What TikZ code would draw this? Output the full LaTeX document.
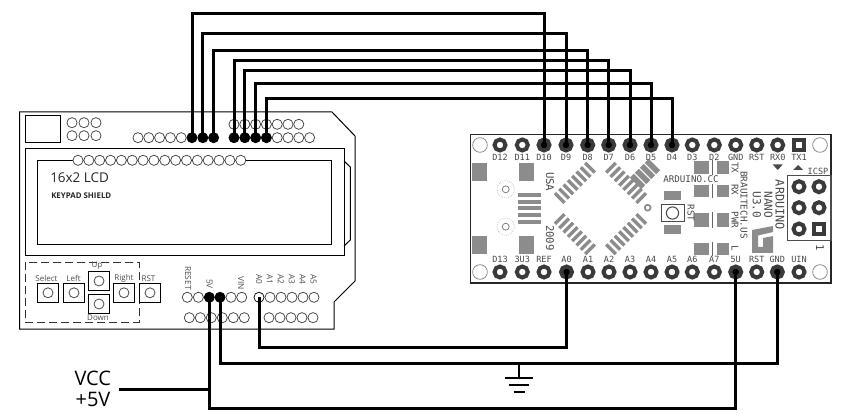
\documentclass[tikz,border=0pt]{standalone}
\usepackage{fontspec}
\setmainfont{Open Sans}
\newfontfamily\boardfont{DejaVu Sans Mono}
\definecolor{padc}{HTML}{3A3A3A}
\definecolor{silk}{HTML}{4A4A4A}
\definecolor{greyc}{HTML}{8C8C8C}
\tikzset{
  outline/.style={draw=black,line width=0.75pt,fill=none},
  hole/.style={circle,draw=black!75,line width=0.55pt,fill=white,minimum size=7.6pt,inner sep=0pt},
  jack/.style={circle,draw=black,line width=0.55pt,fill=black,minimum size=7.6pt,inner sep=0pt},
  wire/.style={draw=black,line width=2.25pt,line join=miter},
  pad/.style={circle,draw=padc,line width=3pt,fill=white,minimum size=8.25pt,inner sep=0pt},
  padjoin/.style={circle,draw=padc,line width=3pt,fill=black,minimum size=8.25pt,inner sep=0pt},
  squarepad/.style={draw=padc,line width=3pt,fill=white,minimum size=7.6pt,inner sep=0pt},
  cornerpad/.style={circle,draw=black!45,line width=0.6pt,fill=white,minimum size=11pt,inner sep=0pt},
  btn/.style={draw=black,line width=0.75pt,fill=white,minimum width=16pt,minimum height=14.5pt,inner sep=0pt},
  btnc/.style={circle,draw=black!70,line width=0.6pt,minimum size=7.5pt,inner sep=0pt},
  shlab/.style={font=\fontsize{6}{6}\selectfont,text=black!70,inner sep=0pt},
  shrot/.style={font=\fontsize{6.2}{6}\selectfont,text=black!70,inner sep=0pt,rotate=-90,anchor=west},
  bdlab/.style={font=\boardfont\fontsize{6.4}{6}\selectfont,text=silk,inner sep=0pt},
  bdrot/.style={font=\boardfont\fontsize{7}{7}\selectfont,text=silk,inner sep=0pt,rotate=-90},
  greyrect/.style={fill=greyc,draw=none},
  power/.style={font=\fontsize{15}{15}\selectfont,text=black,inner sep=0pt},
}
\begin{document}
\begin{tikzpicture}[x=0.75pt,y=-0.75pt]
\useasboundingbox (0,0) rectangle (849,420);
% ---------- shield
\draw[outline] (19.5,112) -- (332,112) -- (355,136) -- (355,281) -- (334,302) -- (334,329) -- (19.5,329) -- cycle;
\draw[outline] (25.5,116) rectangle (60.5,143);
\draw[outline] (25.5,148.3) rectangle (344,256);
\draw[outline] (37.5,160.3) rectangle (331.7,244.3);
\draw[outline] (344,161) -- (350.3,167) -- (350.3,240) -- (344,246);
\foreach \i/\x/\y in {1/72/122.7,2/84/122.7,3/96/122.7,4/72/135.7,5/84/135.7,6/96/135.7}
  \node[hole] (m\i) at (\x,\y) {};
\foreach \i in {0,...,15}
  \node[hole] (l\i) at ({78+\i*10.85},160.3) {};
\foreach \i in {0,...,4}
  \node[hole] (a\i) at ({138+\i*10.8},137.7) {};
\foreach \i in {5,6,7}
  \node[jack] (a\i) at ({138+\i*10.8},137.7) {};
\foreach \i in {0,...,3}
  \node[jack] (b\i) at ({234+\i*10.8},137.7) {};
\foreach \i in {4,...,7}
  \node[hole] (b\i) at ({234+\i*10.8},137.7) {};
\foreach \i in {0,...,6}
  \node[hole] (c\i) at ({234+\i*10.8},124.3) {};
% power header
\foreach \i/\x in {0/187.3,1/198.4,4/231,5/241.7}
  \node[hole] (p\i) at (\x,297.3) {};
\node[jack] (p5v) at (209.3,297.3) {};
\node[jack] (pgnd) at (220,297.3) {};
\node[hole,draw=black] (pa0) at (259,297.3) {};
\foreach \i in {1,...,5}
  \node[hole] (q\i) at ({259+\i*11},297.3) {};
\foreach \i in {0,...,5}
  \node[hole] (r\i) at ({189.3+\i*11},317.7) {};
\foreach \i in {0,...,4}
  \node[hole] (s\i) at ({269+\i*11},317.7) {};
\node[shrot] (tr) at (188,266) {RESET};
\node[shrot] (t5) at (209.5,279) {5V};
\node[shrot] (tv) at (241,276) {VIN};
\foreach \n [count=\i from 0] in {A0,A1,A2,A3,A4,A5}
  \node[shrot] (ta\i) at ({259+\i*10.9},274.5) {\n};
% buttons
\draw[draw=black!80,line width=0.6pt,dash pattern=on 6pt off 3pt] (25.3,262.3) rectangle (139.3,322.3);
\foreach \n/\x/\y in {bs/48/292.8,bl/74/292.8,bu/99/281,bd/99/304,br/124/292.8,bt/150/292.8}{
  \node[btn] (\n) at (\x,\y) {};
  \node[btnc] (\n c) at (\x,\y) {};
}
\node[shlab] (ls) at (46.5,278.5) {Select};
\node[shlab] (ll) at (73.5,278.5) {Left};
\node[shlab] (lu) at (97,265.3) {Up};
\node[shlab] (ld) at (98,317.5) {Down};
\node[shlab] (lr) at (124,278.5) {Right};
\node[shlab] (lt) at (148.5,278.5) {RST};
\node[inner sep=0pt,font=\fontsize{10.1}{10}\selectfont,anchor=west,text=black!85] (lcd) at (50,178) {16x2 LCD};
\node[inner sep=0pt,font=\bfseries\fontsize{5.9}{6}\selectfont,anchor=west,text=black!85] (kp) at (51,196) {KEYPAD SHIELD};
% ---------- nano
\draw[draw=black!85,line width=0.9pt] (470.3,134.3) rectangle (831,283);
% usb pads
\foreach \x/\y in {472.3/162.7,519/162.7,472.3/235.7,519/235.7}
  \fill[greyrect] (\x,\y) rectangle ++(15,18.5);
\foreach \y in {195,201.7,208.3,215,222.3}
  \fill[greyrect] (517.7,\y-2) rectangle (541,\y+2);
\foreach \y in {189.3,226.7}{
  \draw[black!40,line width=0.4pt,densely dotted] (505.7,\y) circle (6.5pt);
  \draw[black!50,line width=0.6pt] (505.7,\y) circle (2.6pt);
}
% chip pins
\begin{scope}[shift={(600.5,208.5)},rotate=45]
 \foreach \r in {0,90,180,270}
  \foreach \k in {-3.5,-2.5,...,3.5}
   \fill[greyrect,rotate=\r] ({\k*6.1-1.7},-43) rectangle ({\k*6.1+1.7},-29.5);
\end{scope}
\draw[greyc,line width=1.3pt] (647.7,207.7) circle (2.2pt);
\begin{scope}[shift={(645,174)},rotate=45]
 \foreach \k in {-1.5,-0.5,0.5,1.5}
  \fill[greyrect] ({\k*7-2.8},-8) rectangle ({\k*7+2.8},8);
\end{scope}
\node[bdrot,font=\boardfont\fontsize{8}{8}\selectfont] (usa) at (550,181.7) {USA};
\node[bdrot,font=\boardfont\fontsize{8}{8}\selectfont] (y09) at (550,238) {2009};
\node[bdlab,font=\boardfont\fontsize{6.9}{6}\selectfont] (ardcc) at (691,179) {ARDUINO.CC};
% LEDs
\foreach \y/\h in {161/13,185/12,213/14,243/12}{
  \fill[greyrect] (694,\y) rectangle ++(15,\h);
  \fill[greyrect] (717,\y) rectangle ++(12,\h);
  \draw[black!60,line width=0.5pt] (712,\y-1) -- (712,\y+\h+1);
}
\node[bdrot] (ttx) at (735,168) {TX};
\node[bdrot] (trx) at (735,190) {RX};
\node[bdrot] (tpw) at (735,220) {PWR};
\node[bdrot] (tld) at (735,248) {L};
% reset
\fill[greyrect] (664,191) rectangle (680.7,200);
\fill[greyrect] (664,225) rectangle (680.7,234.3);
\draw[black!70,line width=0.6pt] (661,204.3) rectangle (684,221.7);
\draw[black!70,line width=0.8pt] (672.5,213) circle (4.6pt);
\node[bdrot] (trst) at (691,213) {RST};
\node[bdrot] (tbt) at (744,205) {BRAUITECH.US};
\node[bdrot,font=\boardfont\fontsize{8.9}{8}\selectfont] (tar) at (780,205) {ARDUINO};
\node[bdrot,font=\boardfont\fontsize{8.3}{8}\selectfont] (tna) at (768.5,205) {NANO};
\node[bdrot,font=\boardfont\fontsize{8.3}{8}\selectfont] (tv3) at (757,205) {U3.0};
% logo
\fill[greyc] (752,230) -- (773,226) -- (773,232) -- (758,235.5) -- (758,247) -- (763,247) -- (763,238) -- (773,236) -- (773,253) -- (752,253) -- cycle;
% icsp
\draw[draw=black!70,line width=1pt] (787.7,175.7) rectangle (831,240.7);
\node[bdlab] (ticsp) at (818,171) {ICSP};
\fill[silk] (772.7,164.5) -- (782.7,164.5) -- (777.7,170) -- cycle;
\fill[silk] (793,170) -- (803,170) -- (798,165) -- cycle;
\node[bdrot,font=\boardfont\fontsize{8}{8}\selectfont] (t1) at (820,248) {1};
\foreach \i/\x/\y in {1/799/186.7,2/819/186.7,3/799/207.7,4/819/207.7,5/799/229}
  \node[pad] (ic\i) at (\x,\y) {};
\node[squarepad] (ic6) at (819,229) {};
% pads
\node[cornerpad] (c1) at (480,145) {};
\node[cornerpad] (c2) at (820,145) {};
\node[cornerpad] (c3) at (480,272) {};
\node[cornerpad] (c4) at (820,272) {};
\foreach \n/\x/\lab in {d12/500/D12,d11/522.3/D11,d3/692.3/D3,d2/714.3/D2,gt/735.7/GND,rt/756.7/RST,rx/777.7/RX0}{
  \node[pad] (\n) at (\x,145) {};
  \node[bdlab] (t\n) at (\x,157.7) {\lab};
}
\foreach \n/\x/\lab in {d10/544/D10,d9/566/D9,d8/587.7/D8,d7/608.7/D7,d6/630/D6,d5/651/D5,d4/672/D4}{
  \node[padjoin] (\n) at (\x,145) {};
  \node[bdlab] (t\n) at (\x,157.7) {\lab};
}
\node[squarepad] (tx) at (799,145) {};
\node[bdlab] (ttx1) at (799,157.7) {TX1};
\foreach \n/\x/\lab in {d13/500/D13,v33/522.3/3U3,ref/544/REF,a1/588/A1,a2/609/A2,a3/630/A3,a4/651/A4,a5/672/A5,a6/692.3/A6,a7/714.3/A7,rb/756.7/RST,vi/799/UIN}{
  \node[pad] (n\n) at (\x,272) {};
  \node[bdlab] (t\n) at (\x,259) {\lab};
}
\foreach \n/\x/\lab in {na0/566.5/A0,v5/735.7/5U,gb/777.3/GND}{
  \node[padjoin] (\n) at (\x,272) {};
  \node[bdlab] (t\n) at (\x,259) {\lab};
}
% ---------- wires
\coordinate (w1) at (400,13.3);
\coordinate (w2) at (400,33.3);
\coordinate (w3) at (400,51);
\coordinate (w4) at (400,60.7);
\coordinate (w5) at (400,70.3);
\coordinate (w6) at (400,83.3);
\coordinate (w7) at (400,98.3);
\draw[wire] (a5.center) |- (w1) -| (d10.center);
\draw[wire] (a6.center) |- (w2) -| (d9.center);
\draw[wire] (a7.center) |- (w3) -| (d8.center);
\draw[wire] (b0.center) |- (w4) -| (d7.center);
\draw[wire] (b1.center) |- (w5) -| (d6.center);
\draw[wire] (b2.center) |- (w6) -| (d5.center);
\draw[wire] (b3.center) |- (w7) -| (d4.center);
\coordinate (w8) at (400,347.3);
\coordinate (w9) at (400,363.3);
\coordinate (w10) at (400,408);
\draw[wire] (pa0.center) |- (w8) -| (na0.center);
\draw[wire] (pgnd.center) |- (w9) -| (gb.center);
\draw[wire] (p5v.center) |- (w10) -| (v5.center);
\node[power] (vcc) at (92.8,378.7) {VCC};
\node[power] (v5v) at (93,399.3) {+5V};
\coordinate (vs) at (118.5,389.3);
\draw[wire] (vs) -- (vs -| p5v.center);
% ground
\coordinate (gj) at (519.3,363.3);
\coordinate (g0) at (519.3,378);
\draw[line width=1.6pt] (gj) -- (g0);
\draw[line width=1.6pt] (505,378) -- (533,378);
\draw[line width=1.6pt] (509,385) -- (529,385);
\draw[line width=1.6pt] (513.5,391.7) -- (524.5,391.7);
\end{tikzpicture}
\end{document}
